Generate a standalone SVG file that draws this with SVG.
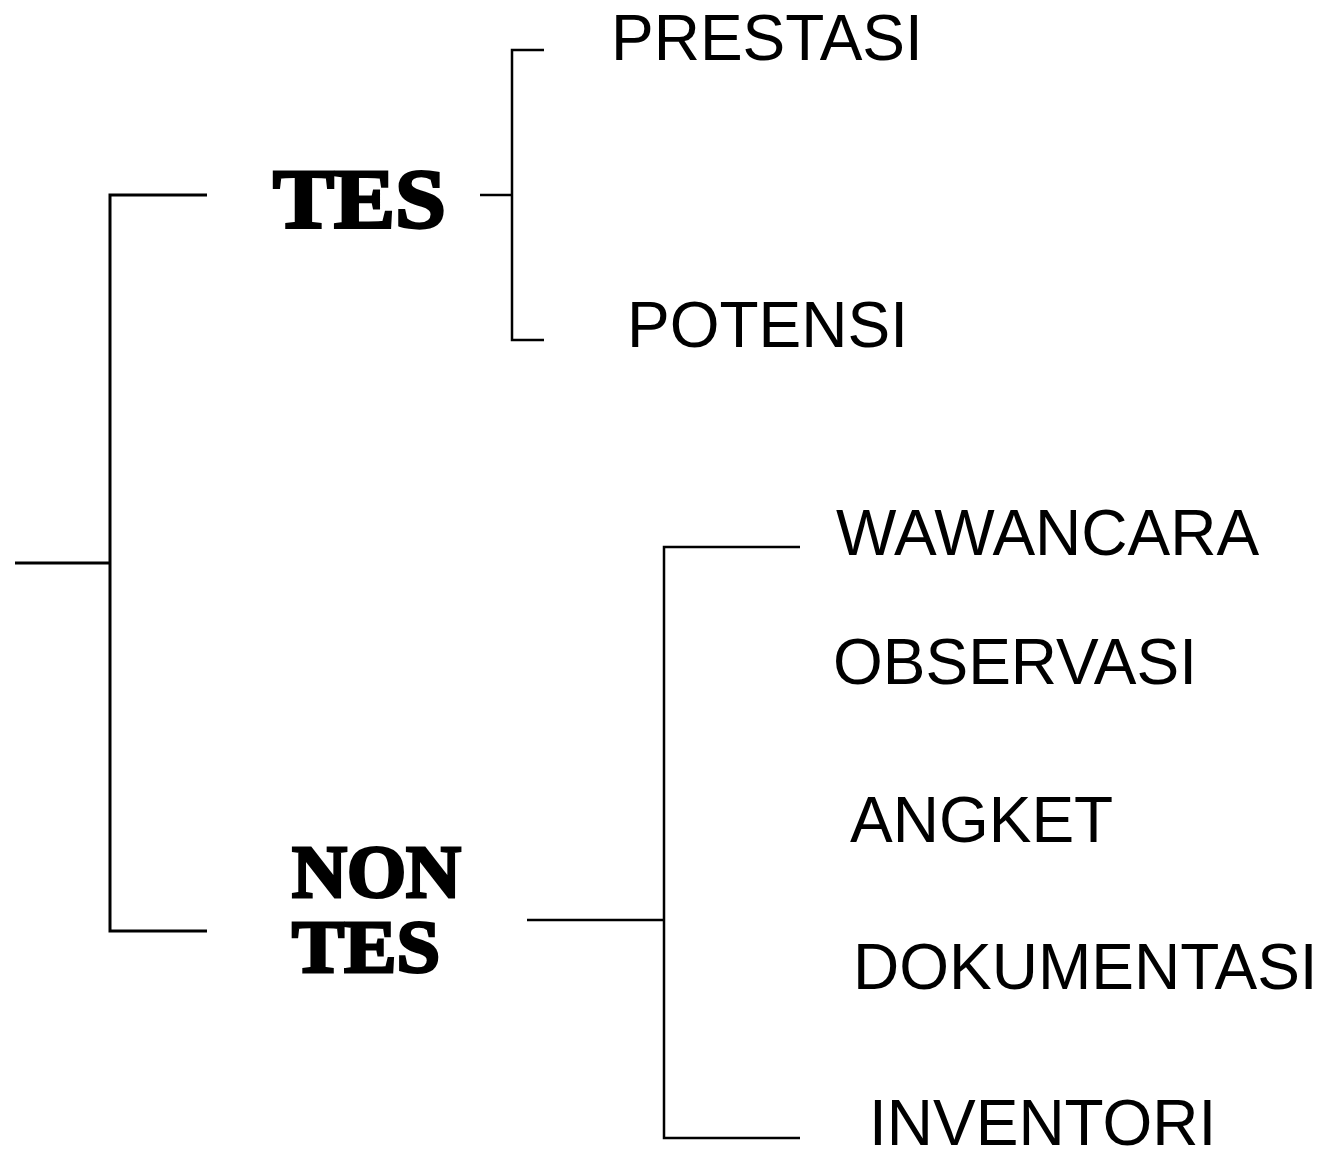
<svg xmlns="http://www.w3.org/2000/svg" width="1321" height="1154" viewBox="0 0 1321 1154">
<style>
.c { fill: none; stroke: #000; stroke-width: 2.5; stroke-linecap: butt; stroke-linejoin: miter; }
.t { stroke-width: 3; }
.lbl { font-family: "Liberation Sans", Arial, sans-serif; font-size: 64px; fill: #000; }
.hd { font-family: "Liberation Serif", "Times New Roman", serif; font-weight: bold; fill: #000; stroke: #000; stroke-width: 3; stroke-linejoin: miter; }
</style>
<rect width="1321" height="1154" fill="#fff"/>
<g id="connectors">
  <path class="c t" d="M15 563 H110"/>
  <path class="c t" d="M207 195 H110 V931 H207"/>
  <path class="c" d="M480 195 H512"/>
  <path class="c" d="M544 50 H512 V340 H544"/>
  <path class="c" d="M527 920 H664"/>
  <path class="c" d="M800 547 H664 V1138 H800"/>
</g>
<g id="node-tes"><text class="hd" x="273" y="228" font-size="84" textLength="173" lengthAdjust="spacingAndGlyphs">TES</text></g>
<g id="node-nontes">
  <text class="hd" x="292" y="897" font-size="74" textLength="169" lengthAdjust="spacingAndGlyphs">NON</text>
  <text class="hd" x="292" y="972" font-size="75" textLength="148" lengthAdjust="spacingAndGlyphs">TES</text>
</g>
<g id="node-prestasi"><text class="lbl" x="611" y="60">PRESTASI</text></g>
<g id="node-potensi"><text class="lbl" x="627" y="347">POTENSI</text></g>
<g id="node-wawancara"><text class="lbl" x="836" y="555">WAWANCARA</text></g>
<g id="node-observasi"><text class="lbl" x="833" y="684">OBSERVASI</text></g>
<g id="node-angket"><text class="lbl" x="850" y="842">ANGKET</text></g>
<g id="node-dokumentasi"><text class="lbl" x="853" y="989">DOKUMENTASI</text></g>
<g id="node-inventori"><text class="lbl" x="869" y="1145">INVENTORI</text></g>
</svg>
